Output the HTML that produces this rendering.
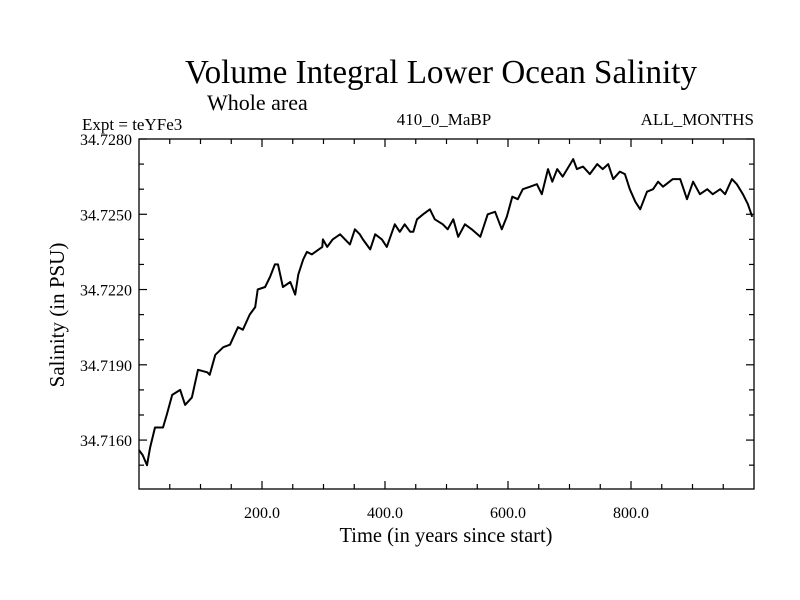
<!DOCTYPE html>
<html><head><meta charset="utf-8"><style>
body{margin:0;background:#fff;}
svg{display:block;font-family:"Liberation Serif",serif;}
</style></head><body>
<svg id="chart" width="800" height="600" viewBox="0 0 800 600">
<rect width="800" height="600" fill="#fff"/>
<text x="441" y="83" font-size="34" text-anchor="middle" textLength="512" lengthAdjust="spacingAndGlyphs">Volume Integral Lower Ocean Salinity</text>
<text x="207" y="110" font-size="22">Whole area</text>
<text x="82" y="130" font-size="17">Expt = teYFe3</text>
<text x="444" y="125" font-size="17" text-anchor="middle">410_0_MaBP</text>
<text x="754" y="125" font-size="17" text-anchor="end">ALL_MONTHS</text>
<text x="446" y="542" font-size="21" text-anchor="middle" textLength="213" lengthAdjust="spacingAndGlyphs">Time (in years since start)</text>
<text transform="translate(64,315) rotate(-90)" font-size="21" text-anchor="middle">Salinity (in PSU)</text>
<g id="ticks"></g>
<path id="line" fill="none" stroke="#000" stroke-width="2" stroke-linejoin="round"/>
<rect x="139" y="139" width="615" height="350" fill="none" stroke="#000" stroke-width="1.3"/>
</svg>
<script>
const years=[0,6,13,18,26,39,45,54,67,75,86,96,111,115,124,137,148,161,169,180,189,193,205,213,221,226,234,246,254,259,267,273,281,298,299,306,315,327,343,351,359,364,376,384,395,403,416,424,432,441,446,452,462,473,481,494,502,511,519,530,541,555,567,579,590,598,607,616,624,636,647,655,665,672,680,689,706,712,722,733,745,754,763,771,782,790,798,807,815,826,836,844,852,868,880,891,901,912,924,933,945,953,964,972,982,990,997];
const salinity=[34.7156,34.7154,34.7150,34.7157,34.7165,34.7165,34.7170,34.7178,34.7180,34.7174,34.7177,34.7188,34.7187,34.7186,34.7194,34.7197,34.7198,34.7205,34.7204,34.7210,34.7213,34.7220,34.7221,34.7225,34.7230,34.7230,34.7221,34.7223,34.7218,34.7226,34.7232,34.7235,34.7234,34.7237,34.7240,34.7237,34.7240,34.7242,34.7238,34.7244,34.7242,34.7240,34.7236,34.7242,34.7240,34.7237,34.7246,34.7243,34.7246,34.7243,34.7243,34.7248,34.7250,34.7252,34.7248,34.7246,34.7244,34.7248,34.7241,34.7246,34.7244,34.7241,34.7250,34.7251,34.7244,34.7249,34.7257,34.7256,34.7260,34.7261,34.7262,34.7258,34.7268,34.7263,34.7268,34.7265,34.7272,34.7268,34.7269,34.7266,34.7270,34.7268,34.7270,34.7264,34.7267,34.7266,34.7260,34.7255,34.7252,34.7259,34.7260,34.7263,34.7261,34.7264,34.7264,34.7256,34.7263,34.7258,34.7260,34.7258,34.7260,34.7258,34.7264,34.7262,34.7258,34.7254,34.7249];
const xTicks=[200,400,600,800];
const xTickLabels=["200.0","400.0","600.0","800.0"];
const yTicks=[34.7160,34.7190,34.7220,34.7250,34.7280];
const yTickLabels=["34.7160","34.7190","34.7220","34.7250","34.7280"];
const X0=139,X1=754,Y0=489,Y1=139,xMin=0,xMax=1000,yMin=34.71405,yMax=34.7280;
const sx=v=>X0+(v-xMin)/(xMax-xMin)*(X1-X0);
const sy=v=>Y0-(v-yMin)/(yMax-yMin)*(Y0-Y1);
const NS="http://www.w3.org/2000/svg";
const g=document.getElementById('ticks');
function ln(x1,y1,x2,y2){const l=document.createElementNS(NS,'line');l.setAttribute('x1',x1);l.setAttribute('y1',y1);l.setAttribute('x2',x2);l.setAttribute('y2',y2);l.setAttribute('stroke','#000');l.setAttribute('stroke-width','1.2');


g.appendChild(l);}
for(let v=50;v<xMax;v+=50){const x=sx(v);const L=(v%200===0)?8:5;ln(x,Y0,x,Y0-L);ln(x,Y1,x,Y1+L);}
for(let k=0;k<=14;k++){const v=34.7280-k*0.001;if(v<yMin)break;const y=sy(v);const L=(k%3===0)?8:5;ln(X0,y,X0+L,y);ln(X1,y,X1-L,y);}
xTicks.forEach((v,i)=>{const t=document.createElementNS(NS,'text');t.setAttribute('x',sx(v));t.setAttribute('y',Y0+29);t.setAttribute('font-size','16');t.setAttribute('text-anchor','middle');t.textContent=xTickLabels[i];


g.appendChild(t);});
yTicks.forEach((v,i)=>{const t=document.createElementNS(NS,'text');t.setAttribute('x',X0-7);t.setAttribute('y',sy(v)+6);t.setAttribute('font-size','16');t.setAttribute('text-anchor','end');t.textContent=yTickLabels[i];


g.appendChild(t);});
document.getElementById('line').setAttribute('d',years.map((y,i)=>(i?'L':'M')+sx(y).toFixed(1)+','+sy(salinity[i]).toFixed(1)).join(''));
</script>
</body></html>
